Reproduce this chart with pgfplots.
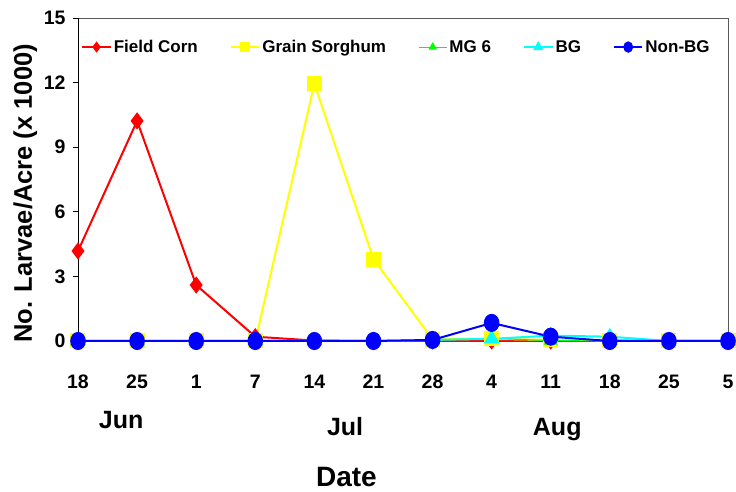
\documentclass[border=0pt]{standalone}
\usepackage{fontspec}
\setmainfont{Liberation Sans}
\usepackage{pgfplots}
\pgfplotsset{compat=1.18}
\definecolor{cRed}{RGB}{255,0,0}
\definecolor{cYel}{RGB}{255,255,0}
\definecolor{cGrn}{RGB}{0,255,0}
\definecolor{cCya}{RGB}{0,255,255}
\definecolor{cBlu}{RGB}{0,0,255}
\begin{document}
\begin{tikzpicture}
\path[use as bounding box] (-78pt,-151pt) rectangle (658pt,341pt);
\begin{axis}[
  scale only axis, width=650pt, height=323pt,
  at={(0pt,0pt)}, anchor=south west,
  xmin=0, xmax=11, ymin=0, ymax=15,
  xtick={0,...,11}, xticklabels={18,25,1,7,14,21,28,4,11,18,25,5},
  ytick={0,3,...,15},
  /pgf/number format/assume math mode=true,
  tick label style={font=\fontsize{19.5}{19.5}\selectfont\bfseries},
  x tick style={draw=none},
  y tick style={black, line width=0.6pt},
  tick align=outside, major tick length=5pt,
  ytick pos=left,
  xticklabel style={anchor=base, yshift=-43pt},
  yticklabel style={xshift=-4pt},
  axis line style={gray!70!black, line width=0.7pt},
  clip=false,
  xlabel={Date},
  xlabel style={font=\fontsize{28}{28}\selectfont\bfseries, at={(axis description cs:0.413,0)}, anchor=base, yshift=-145.7pt},
  ylabel={No. Larvae/Acre (x 1000)},
  ylabel style={font=\fontsize{25.5}{25.5}\selectfont\bfseries, at={(axis description cs:-0.0708,0.457)}, anchor=base},
  legend columns=5,
  legend style={draw=none, fill=none, at={(axis description cs:0.49,0.91)}, anchor=center,
    font=\fontsize{17}{17}\selectfont\bfseries, /tikz/every even column/.append style={column sep=30pt}},
  legend image code/.code={\draw[#1, mark size=4pt] plot coordinates {(0cm,0cm)} (-0.5cm,0cm) -- (0.5cm,0cm);},
  legend cell align=left,
]
\addplot[cRed, line width=2pt, mark=diamond*, mark size=7pt, mark options={fill=cRed}]
  coordinates {(0,4.18)(1,10.22)(2,2.6)(3,0.2)(4,0.02)(5,0.0)(6,0.0)(7,0.0)(8,0.0)(9,0.0)(10,0.0)(11,0.0)};
\addlegendentry{Field Corn}
\addplot[cYel, line width=2pt, mark=square*, mark size=6.5pt, mark options={fill=cYel}]
  coordinates {(0,0)(1,0)(2,0)(3,0)(4,11.95)(5,3.8)(6,0.08)(7,0.1)(8,0.05)(9,0.03)(10,0)(11,0)};
\addlegendentry{Grain Sorghum}
\addplot[cGrn, line width=1pt, mark=triangle*, mark size=7pt, mark options={fill=cGrn}]
  coordinates {(0,0)(1,0)(2,0)(3,0)(4,0)(5,0)(6,0.05)(7,0.12)(8,0.02)(9,0.05)(10,0)(11,0)};
\addlegendentry{MG 6}
\addplot[cCya, line width=2pt, mark=triangle*, mark size=7pt, mark options={fill=cCya}]
  coordinates {(0,0)(1,0)(2,0)(3,0)(4,0)(5,0)(6,0.05)(7,0.1)(8,0.25)(9,0.2)(10,0)(11,0)};
\addlegendentry{BG}
\addplot[cBlu, line width=2pt, mark=*, mark size=7pt, mark options={fill=cBlu, yscale=1.15, xscale=0.97}]
  coordinates {(0,0)(1,0)(2,0)(3,0)(4,0)(5,0)(6,0.05)(7,0.84)(8,0.2)(9,0)(10,0)(11,0)};
\addlegendentry{Non-BG}
\draw[black, line width=0.7pt] (rel axis cs:0,0) -- (rel axis cs:0,1);
\node[font=\fontsize{25}{25}\selectfont\bfseries, anchor=base] at (axis cs:0.73,0) [yshift=-88pt] {Jun};
\node[font=\fontsize{25}{25}\selectfont\bfseries, anchor=base] at (axis cs:4.52,0) [yshift=-94pt] {Jul};
\node[font=\fontsize{25}{25}\selectfont\bfseries, anchor=base] at (axis cs:8.11,0) [yshift=-94pt] {Aug};
\end{axis}
\end{tikzpicture}
\end{document}
